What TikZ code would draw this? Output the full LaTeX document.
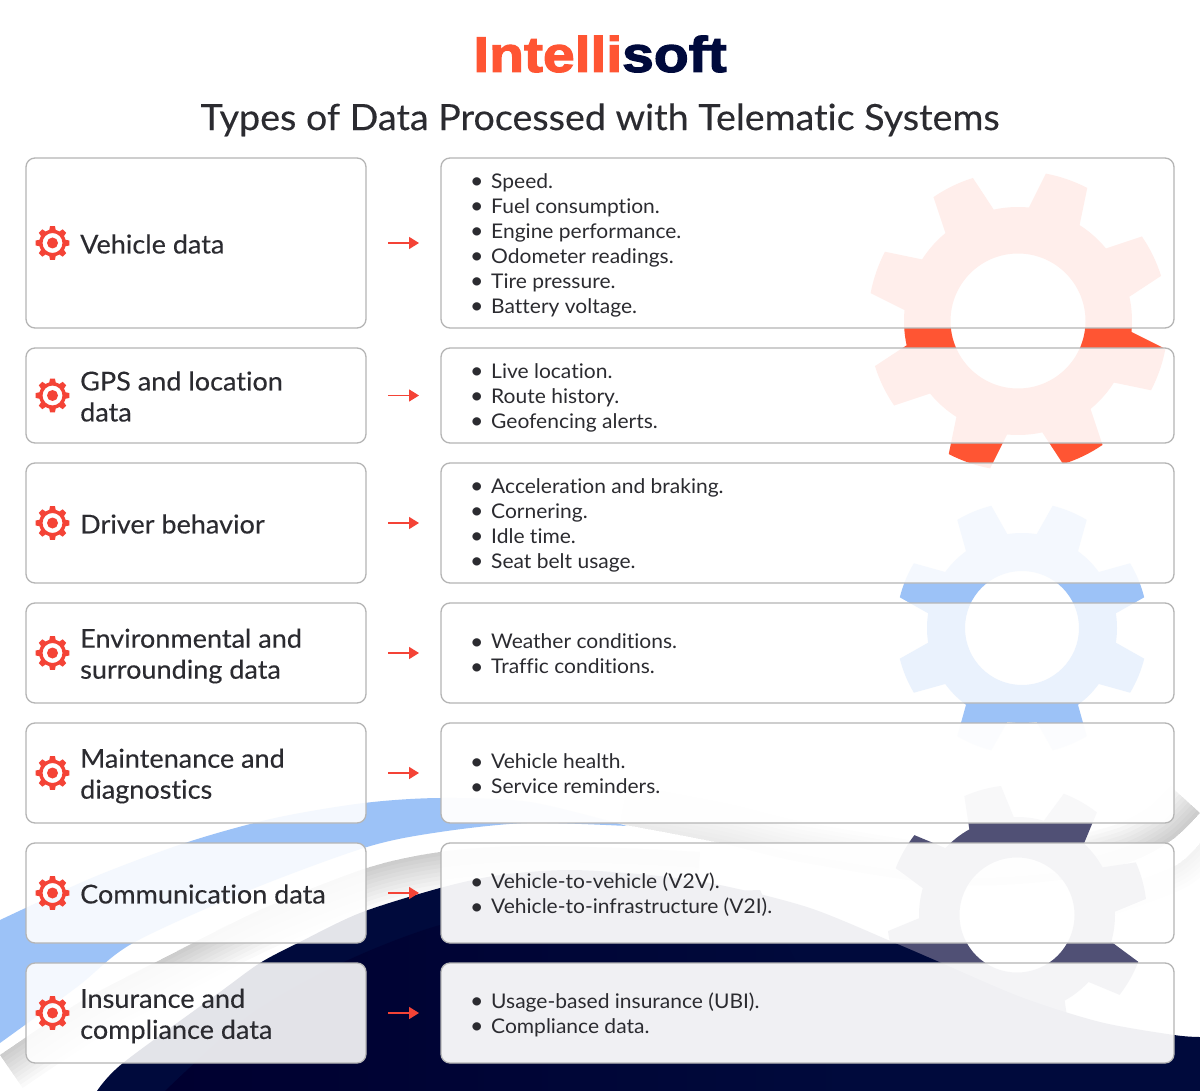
\documentclass[tikz,border=0pt]{standalone}
\usepackage{fontspec}
\setmainfont[Ligatures=NoCommon,FakeStretch=1.04,FakeBold=0.25]{Lato}
\newfontfamily\listfont[Ligatures=NoCommon,FakeStretch=1.04]{Lato}
\newfontfamily\logofont[BoldFeatures={FakeBold=2.5,FakeStretch=1.14}]{Liberation Sans}
\usetikzlibrary{positioning,arrows.meta}

\definecolor{navyblue}{HTML}{000A3C}
\definecolor{deepnavy}{HTML}{000030}
\definecolor{skyblue}{HTML}{9CC2F7}
\definecolor{logored}{HTML}{FF5533}
\definecolor{iconred}{HTML}{F44336}
\definecolor{slategear}{HTML}{505075}
\definecolor{inktext}{HTML}{2B2B30}
\definecolor{boxline}{HTML}{B5B5B5}

% centre, turn, root radius, tip radius, hole radius, colour
\newcommand{\wheel}[6]{
  \fill[#6, even odd rule, shift={#1}] ({#2-13.6}:#3pt)
    \foreach \k in {0,...,7} {
      -- ({#2+45*\k-8.4}:#4pt)
      arc[start angle={#2+45*\k-8.4}, end angle={#2+45*\k+8.4}, radius=#4pt]
      -- ({#2+45*\k+13.6}:#3pt)
      arc[start angle={#2+45*\k+13.6}, end angle={#2+45*\k+31.4}, radius=#3pt]
    } -- cycle
    (0,0) circle[radius=#5pt];
}
\newcommand{\bul}[1]{\makebox[20pt][l]{\hspace{-1pt}\raisebox{-0.3pt}{\scalebox{1.1}{\textbullet}}}#1}

\def\lowerswoop{plot[smooth] coordinates {(0,1055) (80,1002) (160,960) (260,910) (367,868) (440,852) (520,846) (620,848) (700,852)}}
\def\upperswoop{plot[smooth] coordinates {(620,824) (720,843) (800,862) (950,885) (1060,880) (1130,862) (1172,840) (1200,813)}}
\def\cornerswoop{plot[smooth] coordinates {(1060,880) (1130,862) (1172,840) (1200,813)}}
\def\faintswoop{plot[smooth] coordinates {(1097,895) (1173,867) (1200,843)}}

\begin{document}
\begin{tikzpicture}[x=1pt,y=-1pt]

 \tikzset{
    labelbox/.style={draw=boxline, line width=1.3pt, fill=white, fill opacity=.89, draw opacity=1,
      rounded corners=9pt, minimum width=340pt, inner sep=0pt, outer sep=0pt},
    listbox/.style={draw=boxline, line width=1.3pt, fill=white, fill opacity=#1, draw opacity=1,
      rounded corners=9pt, minimum width=733pt, inner sep=0pt, outer sep=0pt},
    labeltext/.style={anchor=west, align=left, inner sep=0pt, text=inktext, yshift=-1pt,
      font=\fontsize{26}{31}\selectfont},
    listtext/.style={anchor=west, align=left, inner sep=0pt, text=inktext, yshift=-2pt,
      font=\listfont\fontsize{20.2}{25}\selectfont},
    flow/.style={draw=iconred, line width=1.6pt, -{Triangle[length=10pt,width=12pt]}},
    gearicon/.pic={
      \wheel{(0,0)}{0}{13.5}{17}{10}{iconred}
      \fill[iconred] (0,0) circle[radius=5.5pt];
    },
  }

  \useasboundingbox (0,0) rectangle (1200,1091);
  \fill[white] (0,0) rectangle (1200,1091);

  % background swooshes
  \begin{scope}
    \clip \lowerswoop -- (1200,1091) -- (0,1091) -- cycle;
    \foreach \w in {8,16,...,80} {
      \draw[black, opacity=.02, line width=\w pt] \lowerswoop;
    }
  \end{scope}
  \begin{scope}
    \clip \upperswoop -- (1200,700) -- (620,700) -- cycle;
    \foreach \w in {8,16,...,80} {
      \draw[black, opacity=.009, line width=\w pt] \upperswoop;
      \draw[black, opacity=.012, line width=\w pt] \cornerswoop;
    }
  \end{scope}
  \begin{scope}
    \clip \faintswoop -- (1200,1000) -- (1097,1000) -- cycle;
    \foreach \w in {8,16,...,48} {
      \draw[black, opacity=.006, line width=\w pt] \faintswoop;
    }
  \end{scope}
  \fill[skyblue] plot[smooth] coordinates {(0,920) (94,877) (188,842) (275,818) (364,803) (440,798) (530,802) (627,826)}
    -- plot[smooth] coordinates {(627,826) (527,823) (440,832) (367,847) (250,890) (133,943) (77,987) (0,1043)} -- cycle;

  % gears behind the boxes
  \wheel{(1018,321)}{70.9}{114}{150}{67.5}{logored}
  \wheel{(1022,628)}{67.5}{95}{126}{57}{skyblue}
  \wheel{(1017,915)}{60.5}{98}{130}{57.5}{slategear}

  \fill[navyblue] plot[smooth] coordinates {(97,1091) (123,1063) (220,992) (260,963) (298,943) (360,913) (440,888) (500,875) (570,870) (650,875) (720,885) (810,908) (895,943) (937,961) (1021,997) (1100,1022) (1174,1035) (1200,1037)}
    -- (1200,1091) -- cycle;
  \shade[left color=deepnavy, right color=navyblue] plot[smooth] coordinates {(165,1091) (250,1015) (344,962) (440,925) (560,900) (760,890)}
    -- (860,1091) -- cycle;

  \node[font=\logofont\bfseries\fontsize{50}{50}\selectfont] (logo) at (600,54) {\textcolor{logored}{Intelli}\textcolor{navyblue}{soft}};
  \node[text=inktext, font=\fontsize{36.2}{36}\selectfont, below=24pt of logo] (title) {Types of Data Processed with Telematic Systems};

  % left column
  \node[labelbox, minimum height=170pt] (vehicle) at (196,243) {};
  \node[labelbox, minimum height=95pt, below=20pt of vehicle] (gps) {};
  \node[labelbox, minimum height=120pt, below=20pt of gps] (driver) {};
  \node[labelbox, minimum height=100pt, below=20pt of driver] (surround) {};
  \node[labelbox, minimum height=100pt, below=20pt of surround] (upkeep) {};
  \node[labelbox, minimum height=100pt, below=20pt of upkeep] (comms) {};
  \node[labelbox, minimum height=100pt, below=20pt of comms] (cover) {};

  % right column
  \node[listbox=.9, minimum height=170pt, right=75pt of vehicle] (vehicle-list) {};
  \node[listbox=.9, minimum height=95pt, right=75pt of gps] (gps-list) {};
  \node[listbox=.89, minimum height=120pt, right=75pt of driver] (driver-list) {};
  \node[listbox=.79, minimum height=100pt, right=75pt of surround] (surround-list) {};
  \node[listbox=.96, minimum height=100pt, right=75pt of upkeep] (upkeep-list) {};
  \node[listbox=.94, minimum height=100pt, right=75pt of comms] (comms-list) {};
  \node[listbox=.94, minimum height=100pt, right=75pt of cover] (cover-list) {};

  \node[labeltext, right=54pt of vehicle.west] (vehicle-text) {Vehicle data};
  \node[labeltext, right=54pt of gps.west] (gps-text) {GPS and location\\data};
  \node[labeltext, right=54pt of driver.west] (driver-text) {Driver behavior};
  \node[labeltext, yshift=-2pt, right=54pt of surround.west] (surround-text) {Environmental and\\surrounding data};
  \node[labeltext, yshift=-2pt, right=54pt of upkeep.west] (upkeep-text) {Maintenance and\\diagnostics};
  \node[labeltext, right=54pt of comms.west] (comms-text) {Communication data};
  \node[labeltext, yshift=-2pt, right=54pt of cover.west] (cover-text) {Insurance and\\compliance data};

  \node[listtext, right=30pt of vehicle-list.west] (vehicle-items) {\bul{Speed.}\\\bul{Fuel consumption.}\\\bul{Engine performance.}\\\bul{Odometer readings.}\\\bul{Tire pressure.}\\\bul{Battery voltage.}};
  \node[listtext, right=30pt of gps-list.west] (gps-items) {\bul{Live location.}\\\bul{Route history.}\\\bul{Geofencing alerts.}};
  \node[listtext, right=30pt of driver-list.west] (driver-items) {\bul{Acceleration and braking.}\\\bul{Cornering.}\\\bul{Idle time.}\\\bul{Seat belt usage.}};
  \node[listtext, yshift=1pt, right=30pt of surround-list.west] (surround-items) {\bul{Weather conditions.}\\\bul{Traffic conditions.}};
  \node[listtext, yshift=1pt, right=30pt of upkeep-list.west] (upkeep-items) {\bul{Vehicle health.}\\\bul{Service reminders.}};
  \node[listtext, right=30pt of comms-list.west] (comms-items) {\bul{Vehicle-to-vehicle (V2V).}\\\bul{Vehicle-to-infrastructure (V2I).}};
  \node[listtext, right=30pt of cover-list.west] (cover-items) {\bul{Usage-based insurance (UBI).}\\\bul{Compliance data.}};

  \foreach \row in {vehicle,gps,driver,surround,upkeep,comms,cover} {
    \pic (\row-icon) at ([xshift=26.5pt]\row.west) {gearicon};
    \draw[flow] ([xshift=22pt]\row.east) -- ([xshift=-22pt]\row-list.west);
  }
\end{tikzpicture}
\end{document}
